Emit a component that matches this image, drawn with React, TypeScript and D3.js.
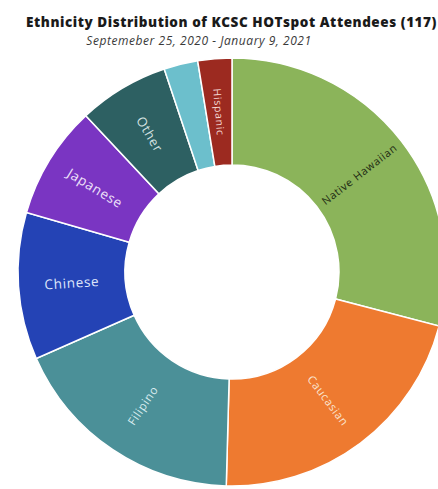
import React from "react";
import * as d3 from "d3";

const categories = ["Native Hawaiian", "Caucasian", "Filipino", "Chinese", "Japanese", "Other", "Unlabeled", "Hispanic"];
const counts = [34, 25, 21, 13, 10, 8, 3, 3];
const labels = ["Native Hawaiian", "Caucasian", "Filipino", "Chinese", "Japanese", "Other", "", "Hispanic"];
const colors = ["#8bb45a", "#ee7a30", "#4b9098", "#2443b5", "#7a35c2", "#2d6062", "#6cbfcc", "#9c2a20"];
const labelColors = ["#1e2a12", "#fbe3cf", "#d8ecef", "#dfe6fb", "#efe2fa", "#d6e3e3", "#ffffff", "#f3d8d4"];
const labelSizes = [10.8, 11.3, 11.6, 13.5, 13.5, 13, 9, 10.5];

const title = "Ethnicity Distribution of KCSC HOTspot Attendees (117)";
const subtitle = "Septemeber 25, 2020 - January 9, 2021";

const W = 438;
const H = 489;
const cx = 232;
const cy = 272;
const outerR = 214;
const innerR = 107;
const FONT = "'Open Sans', Lato, sans-serif";

export default function App() {
  const data = categories.map((c, i) => ({ name: c, value: counts[i], i }));
  const pie = d3.pie<any>().value((d: any) => d.value).sort(null);
  const arcs = pie(data);
  const arc = d3.arc<any>().innerRadius(innerR).outerRadius(outerR);
  const toDeg = (r: number) => (r * 180) / Math.PI;

  return (
    <div style={{ position: "fixed", left: 0, top: 0, width: W, height: H, background: "#fff" }}>
      <svg width={W} height={H} style={{ display: "block" }}>
        <rect x={0} y={0} width={W} height={H} fill="#ffffff" />
        <text
          x={231.5}
          y={27}
          textAnchor="middle"
          fontFamily={FONT}
          fontWeight={800}
          fontSize={13.5}
          letterSpacing={0.55}
          fill="#1a1a1a"
        >
          {title}
        </text>
        <text
          x={199}
          y={45}
          textAnchor="middle"
          fontFamily={FONT}
          fontStyle="italic"
          fontSize={12}
          letterSpacing={0.55}
          fill="#3a3a3a"
        >
          {subtitle}
        </text>
        <g transform={`translate(${cx},${cy})`}>
          {arcs.map((a, k) => (
            <path key={k} d={arc(a) as string} fill={colors[a.data.i]} stroke="#ffffff" strokeWidth={1.5} />
          ))}
          {arcs.map((a, k) => {
            const lbl = labels[a.data.i];
            if (!lbl) return null;
            const [x, y] = arc.centroid(a);
            const mid = toDeg((a.startAngle + a.endAngle) / 2);
            const rot = mid < 180 ? mid - 90 : mid + 90;
            return (
              <text
                key={"t" + k}
                transform={`translate(${x},${y}) rotate(${rot})`}
                textAnchor="middle"
                dominantBaseline="central"
                fontFamily={FONT}
                fontSize={labelSizes[a.data.i]}
                letterSpacing={0.7}
                fill={labelColors[a.data.i]}
              >
                {lbl}
              </text>
            );
          })}
        </g>
      </svg>
    </div>
  );
}
